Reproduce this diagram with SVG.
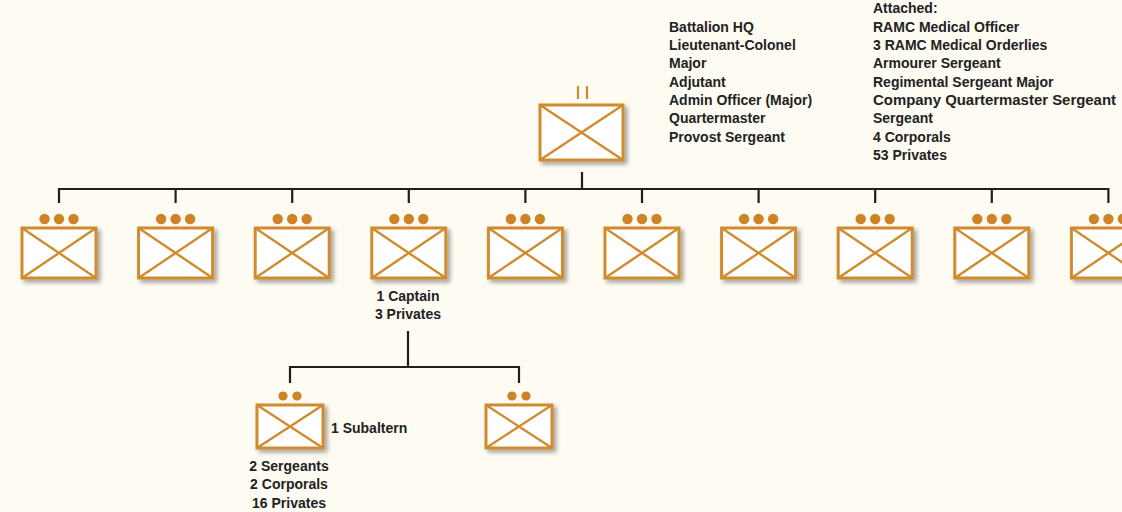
<svg xmlns="http://www.w3.org/2000/svg" xmlns:xlink="http://www.w3.org/1999/xlink" width="1122" height="512" viewBox="0 0 1122 512">
<style>
.bx{fill:#ffffff;stroke:#D08B2E;stroke-width:3}
.dg{stroke:#D08B2E;stroke-width:2.4;fill:none}
.dot{fill:#CC8427}
.con{stroke:#1e1e1e;stroke-width:2.2;fill:none}
.t{font-family:"Liberation Sans",Arial,sans-serif;font-weight:bold;font-size:14px;fill:#222222}
.m{text-anchor:middle}
</style>
<defs>
<filter id="sh" x="-20%" y="-20%" width="150%" height="150%">
<feDropShadow dx="3" dy="3" stdDeviation="2.2" flood-color="#000" flood-opacity="0.35"/>
</filter>
<g id="co">
<rect class="bx" x="-37" y="0" width="74" height="50" filter="url(#sh)"/>
<path class="dg" d="M-37 0L37 50M37 0L-37 50"/>
<circle class="dot" cx="-14.5" cy="-9" r="5.2"/>
<circle class="dot" cx="0" cy="-9" r="5.2"/>
<circle class="dot" cx="14.5" cy="-9" r="5.2"/>
</g>
<g id="pl">
<rect class="bx" x="-33" y="0" width="66" height="43" filter="url(#sh)"/>
<path class="dg" d="M-33 0L33 43M33 0L-33 43"/>
<circle class="dot" cx="-7" cy="-9" r="4.6"/>
<circle class="dot" cx="7" cy="-9" r="4.6"/>
</g>
</defs>
<rect width="1122" height="512" fill="#FDFBF2"/>

<g id="connectors">
<path class="con" d="M582 172V189M59 203V189H1108.4V203M175.6 189V203M292.2 189V203M408.8 189V203M525.4 189V203M642 189V203M758.6 189V203M875.2 189V203M991.8 189V203"/>
<path class="con" d="M408 331V367M290 383V367H519V383"/>
</g>

<g id="hq">
<rect class="bx" x="540" y="105" width="83" height="55" filter="url(#sh)"/>
<path class="dg" d="M540 105L623 160M623 105L540 160"/>
<path d="M578 86V99M587 86V99" stroke="#D08B2E" stroke-width="2.2"/>
</g>

<g id="hq-text">
<text class="t" x="669" y="32">Battalion HQ</text>
<text class="t" x="669" y="50">Lieutenant-Colonel</text>
<text class="t" x="669" y="68">Major</text>
<text class="t" x="669" y="86.5">Adjutant</text>
<text class="t" x="669" y="105">Admin Officer (Major)</text>
<text class="t" x="669" y="123">Quartermaster</text>
<text class="t" x="669" y="141.5">Provost Sergeant</text>
</g>
<g id="attached-text">
<text class="t" x="873" y="13">Attached:</text>
<text class="t" x="873" y="31.5">RAMC Medical Officer</text>
<text class="t" x="873" y="50">3 RAMC Medical Orderlies</text>
<text class="t" x="873" y="68">Armourer Sergeant</text>
<text class="t" x="873" y="86.5">Regimental Sergeant Major</text>
<text class="t" x="873" y="105" textLength="243" lengthAdjust="spacingAndGlyphs">Company Quartermaster Sergeant</text>
<text class="t" x="873" y="123">Sergeant</text>
<text class="t" x="873" y="141.5">4 Corporals</text>
<text class="t" x="873" y="160">53 Privates</text>
</g>

<g id="company-1"><use xlink:href="#co" href="#co" x="59" y="228"/></g>
<g id="company-2"><use xlink:href="#co" href="#co" x="175.6" y="228"/></g>
<g id="company-3"><use xlink:href="#co" href="#co" x="292.2" y="228"/></g>
<g id="company-4">
<use xlink:href="#co" href="#co" x="408.8" y="228"/>
<text class="t m" x="408" y="301">1 Captain</text>
<text class="t m" x="408" y="319">3 Privates</text>
</g>
<g id="company-5"><use xlink:href="#co" href="#co" x="525.4" y="228"/></g>
<g id="company-6"><use xlink:href="#co" href="#co" x="642" y="228"/></g>
<g id="company-7"><use xlink:href="#co" href="#co" x="758.6" y="228"/></g>
<g id="company-8"><use xlink:href="#co" href="#co" x="875.2" y="228"/></g>
<g id="company-9"><use xlink:href="#co" href="#co" x="991.8" y="228"/></g>
<g id="company-10"><use xlink:href="#co" href="#co" x="1108.4" y="228"/></g>

<g id="platoon-1">
<use xlink:href="#pl" href="#pl" x="290" y="405"/>
<text class="t" x="331" y="433">1 Subaltern</text>
<text class="t m" x="289" y="471">2 Sergeants</text>
<text class="t m" x="289" y="489">2 Corporals</text>
<text class="t m" x="289" y="507.5">16 Privates</text>
</g>
<g id="platoon-2"><use xlink:href="#pl" href="#pl" x="519" y="405"/></g>
</svg>
